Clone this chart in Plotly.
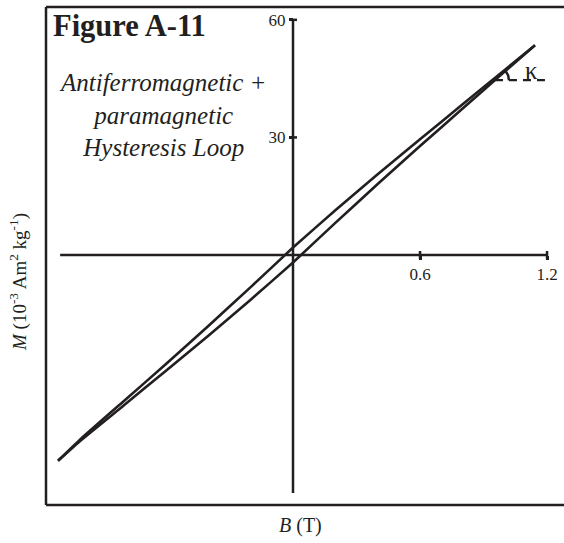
import numpy as np
import plotly.graph_objects as go

# Hysteresis loop data (B in T, M in 10^-3 Am^2/kg)
B_descending = [1.143, 1.0, 0.8, 0.6, 0.4, 0.2, 0.0, -0.2, -0.4, -0.6, -0.8, -1.0, -1.11]
M_descending = [53.5, 47.2, 38.4, 29.5, 20.6, 11.4, 1.9, -8.2, -18.1, -27.8, -37.3, -46.8, -52.5]
B_ascending = [-1.11, -1.0, -0.8, -0.6, -0.4, -0.2, 0.0, 0.2, 0.4, 0.6, 0.8, 1.0, 1.143]
M_ascending = [-52.5, -47.2, -38.4, -29.5, -20.6, -11.4, -1.9, 8.2, 18.1, 27.8, 37.3, 46.8, 53.5]

x_tickvals = [0.6, 1.2]
x_ticktext = ["0.6", "1.2"]
y_tickvals = [30, 60]
y_ticktext = ["30", "60"]

# kappa (high-field slope) marker
kappa_B = 0.954
kappa_M = 44.6
kappa_end_B = 1.19

INK = "#231f20"
SERIF = "Liberation Serif"

W, H = 564, 543
ML, MR, MT, MB = 46, 0, 7, 38
X_RANGE = [-1.1668, 1.2801]
Y_RANGE = [-63.78, 63.27]

fig = go.Figure()

for bx, my in ((B_descending, M_descending), (B_ascending, M_ascending)):
    fig.add_trace(go.Scatter(x=bx, y=my, mode="lines",
                             line=dict(color=INK, width=2.6, shape="spline", smoothing=0.4),
                             hoverinfo="skip", showlegend=False))

# kappa angle arc (in pixel-consistent units)
px_per_B = (W - ML - MR) / (X_RANGE[1] - X_RANGE[0])
px_per_M = (H - MT - MB) / (Y_RANGE[1] - Y_RANGE[0])
r_px = 14
ang_line = np.arctan2((M_descending[0] - M_descending[1]) * px_per_M,
                      (B_descending[0] - B_descending[1]) * px_per_B)
theta = np.linspace(0, ang_line, 20)
arc_B = kappa_B + r_px * np.cos(theta) / px_per_B
arc_M = kappa_M + r_px * np.sin(theta) / px_per_M
fig.add_trace(go.Scatter(x=arc_B, y=arc_M, mode="lines",
                         line=dict(color=INK, width=2.5), hoverinfo="skip", showlegend=False))
fig.add_trace(go.Scatter(x=[kappa_B, kappa_end_B], y=[kappa_M, kappa_M], mode="lines",
                         line=dict(color=INK, width=2.2, dash="8px,6px"),
                         hoverinfo="skip", showlegend=False))

shapes = []
# central axes lines
shapes.append(dict(type="line", xref="x", yref="y", x0=0, x1=0, y0=-60.7, y1=60,
                   line=dict(color=INK, width=2.5)))
shapes.append(dict(type="line", xref="x", yref="y", x0=-1.10, x1=1.2, y0=0, y1=0,
                   line=dict(color=INK, width=2.5)))
# tick marks crossing the axes
for v in x_tickvals:
    shapes.append(dict(type="line", xref="x", yref="y", x0=v, x1=v,
                       y0=-4 / px_per_M, y1=4 / px_per_M, line=dict(color=INK, width=2.5)))
for v in y_tickvals:
    shapes.append(dict(type="line", xref="x", yref="y", y0=v, y1=v,
                       x0=-4 / px_per_B, x1=4 / px_per_B, line=dict(color=INK, width=2.5)))
# frame (open on the right, cut by the page edge)
shapes.append(dict(type="line", xref="paper", yref="paper", x0=0, x1=0, y0=0, y1=1,
                   line=dict(color=INK, width=2.5)))
shapes.append(dict(type="line", xref="paper", yref="paper", x0=0, x1=1.05, y0=1, y1=1,
                   line=dict(color=INK, width=2.5)))
shapes.append(dict(type="line", xref="paper", yref="paper", x0=0, x1=1.05, y0=0, y1=0,
                   line=dict(color=INK, width=2.5)))


def px(xp):
    return (xp - ML) / (W - ML - MR)


def py(yp):
    return (H - MB - yp) / (H - MT - MB)


annotations = [
    dict(text="<b>Figure A-11</b>", xref="paper", yref="paper", x=px(51), y=py(26),
         xanchor="left", yanchor="middle", showarrow=False,
         font=dict(family=SERIF, size=30.5, color=INK)),
    dict(text="<i>Antiferromagnetic +<br>paramagnetic<br>Hysteresis Loop</i>",
         xref="paper", yref="paper", x=px(163), y=py(115), xanchor="center",
         yanchor="middle", align="center", showarrow=False,
         font=dict(family=SERIF, size=25, color=INK)),
    dict(text="κ", xref="x", yref="y", x=kappa_B + 37 / px_per_B, y=kappa_M + 10 / px_per_M,
         xanchor="center", yanchor="middle", showarrow=False,
         font=dict(family=SERIF, size=25, color=INK)),
    dict(text="<i>M</i> (10<sup>-3</sup> Am<sup>2</sup> kg<sup>-1</sup>)", xref="paper",
         yref="paper", x=px(18), y=py(282), xanchor="center", yanchor="middle",
         textangle=-90, showarrow=False, font=dict(family=SERIF, size=19, color=INK)),
    dict(text="<i>B</i> (T)", xref="paper", yref="paper", x=px(300), y=py(525),
         xanchor="center", yanchor="middle", showarrow=False,
         font=dict(family=SERIF, size=20, color=INK)),
]

fig.update_layout(
    width=W, height=H,
    margin=dict(l=ML, r=MR, t=MT, b=MB, pad=0),
    paper_bgcolor="white", plot_bgcolor="white",
    shapes=shapes, annotations=annotations,
    xaxis=dict(range=X_RANGE, anchor="free", position=py(255), showline=False,
               showgrid=False, zeroline=False, tickvals=x_tickvals, ticktext=x_ticktext,
               ticks="outside", ticklen=4, tickwidth=2.5, tickcolor=INK,
               tickfont=dict(family=SERIF, size=17, color=INK), fixedrange=True),
    yaxis=dict(range=Y_RANGE, anchor="free", position=px(293), side="left", showline=False,
               showgrid=False, zeroline=False, tickvals=y_tickvals, ticktext=y_ticktext,
               ticks="outside", ticklen=4, tickwidth=2.5, tickcolor=INK,
               tickfont=dict(family=SERIF, size=17, color=INK), fixedrange=True),
    showlegend=False,
)

fig.write_html("out.html")
